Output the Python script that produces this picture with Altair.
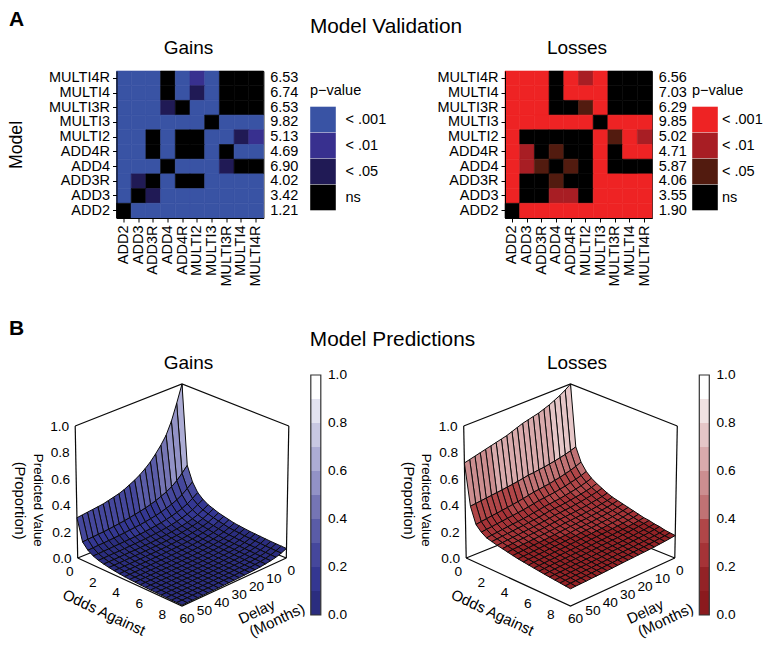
import altair as alt
import pandas as pd

FONT = "Liberation Sans"
MODELS = ["ADD2", "ADD3", "ADD3R", "ADD4", "ADD4R", "MULTI2", "MULTI3", "MULTI3R", "MULTI4", "MULTI4R"]
MODELS_TOP = MODELS[::-1]
P_LABELS = ["< .001", "< .01", "< .05", "ns"]
# 3 = < .001, 2 = < .01, 1 = < .05, 0 = ns; rows from MULTI4R down to ADD2
GAINS_P = [
    [3,3,3,0,3,2,3,0,0,0],
    [3,3,3,0,3,1,3,0,0,0],
    [3,3,3,1,0,3,3,0,0,0],
    [3,3,3,3,3,3,0,3,3,3],
    [3,3,0,3,0,0,3,3,1,2],
    [3,3,0,3,0,0,3,0,3,3],
    [3,3,3,0,3,3,3,1,0,0],
    [3,1,0,3,0,0,3,3,3,3],
    [3,0,1,3,3,3,3,3,3,3],
    [0,3,3,3,3,3,3,3,3,3],
]
LOSSES_P = [
    [3,3,3,0,3,2,3,0,0,0],
    [3,3,3,0,3,3,3,0,0,0],
    [3,3,3,0,0,1,3,0,0,0],
    [3,3,3,3,3,3,0,3,3,3],
    [3,0,0,0,0,0,3,1,3,2],
    [3,2,0,1,0,0,3,0,3,3],
    [3,2,1,0,1,0,3,0,0,0],
    [3,0,0,1,0,0,3,3,3,3],
    [3,0,0,2,2,0,3,3,3,3],
    [0,3,3,3,3,3,3,3,3,3],
]
GAINS_BIC = ["6.53","6.74","6.53","9.82","5.13","4.69","6.90","4.02","3.42","1.21"]
LOSSES_BIC = ["6.56","7.03","6.29","9.85","5.02","4.71","5.87","4.06","3.55","1.90"]
GAINS_P_COLORS = ["#3953a4", "#38308f", "#201a55", "#000000"]
LOSSES_P_COLORS = ["#ee2324", "#a81e24", "#521b0f", "#000000"]

ODDS_MAX = 9
DELAY_MAX = 60
# predicted value: rows = odds step (0.45), columns = delay step (3 months)
GAINS_SURFACE = [
[1,.87,.75,.66,.60,.55,.505,.47,.44,.415,.395,.375,.36,.35,.34,.33,.325,.32,.315,.31,.305],
[.40,.355,.315,.285,.262,.245,.228,.215,.204,.195,.187,.179,.172,.166,.161,.156,.152,.149,.146,.143,.14],
[.29,.256,.225,.202,.185,.171,.158,.148,.14,.133,.127,.122,.118,.114,.11,.107,.104,.102,.1,.097,.095],
[.225,.197,.172,.153,.139,.128,.118,.11,.104,.098,.093,.089,.086,.083,.081,.079,.077,.075,.073,.071,.07],
[.19,.165,.143,.126,.114,.104,.096,.089,.083,.078,.074,.071,.068,.066,.064,.062,.060,.059,.058,.056,.055],
[.165,.142,.122,.107,.096,.087,.08,.074,.069,.065,.061,.058,.056,.054,.052,.051,.05,.048,.047,.046,.045],
[.15,.128,.109,.095,.085,.077,.07,.064,.06,.056,.053,.05,.048,.046,.044,.043,.042,.04,.039,.038,.037],
[.135,.115,.097,.084,.075,.068,.061,.056,.052,.048,.045,.043,.041,.039,.038,.036,.035,.034,.033,.032,.031],
[.125,.105,.088,.076,.067,.06,.054,.049,.045,.042,.04,.037,.035,.034,.032,.031,.03,.029,.028,.027,.026],
[.115,.096,.08,.068,.06,.053,.048,.043,.04,.037,.034,.032,.03,.029,.028,.027,.026,.025,.024,.023,.022],
[.105,.087,.072,.061,.053,.047,.042,.038,.035,.032,.03,.028,.026,.025,.024,.023,.022,.021,.02,.02,.019],
[.1,.082,.067,.056,.049,.043,.038,.035,.031,.029,.027,.025,.024,.022,.021,.02,.02,.019,.018,.018,.017],
[.095,.078,.063,.052,.045,.04,.035,.032,.029,.026,.024,.023,.021,.02,.019,.018,.018,.017,.016,.016,.015],
[.09,.073,.059,.049,.042,.037,.032,.029,.026,.024,.022,.021,.019,.018,.017,.016,.016,.015,.014,.014,.013],
[.087,.07,.056,.046,.039,.034,.03,.027,.024,.022,.02,.019,.017,.016,.016,.015,.014,.014,.013,.013,.012],
[.084,.067,.053,.044,.037,.032,.028,.025,.022,.02,.019,.017,.016,.015,.014,.014,.013,.012,.012,.011,.011],
[.081,.064,.051,.042,.035,.03,.026,.023,.021,.019,.017,.016,.015,.014,.013,.012,.012,.011,.011,.01,.01],
[.078,.061,.048,.039,.033,.028,.024,.022,.019,.017,.016,.015,.014,.013,.012,.011,.011,.01,.01,.009,.009],
[.076,.059,.046,.037,.031,.026,.023,.02,.018,.016,.015,.014,.013,.012,.011,.01,.01,.009,.009,.008,.008],
[.074,.057,.044,.035,.029,.025,.021,.019,.017,.015,.014,.013,.012,.011,.01,.01,.009,.009,.008,.008,.008],
[.072,.055,.042,.034,.028,.023,.02,.018,.016,.014,.013,.012,.011,.01,.009,.009,.008,.008,.008,.007,.007],
]
LOSSES_SURFACE = [
[1,.97,.945,.925,.905,.89,.875,.865,.855,.845,.83,.815,.80,.79,.78,.77,.76,.75,.74,.73,.72],
[.54,.526,.514,.505,.496,.489,.482,.478,.472,.469,.461,.454,.448,.443,.437,.433,.428,.424,.419,.415,.41],
[.44,.424,.41,.40,.389,.382,.373,.368,.362,.358,.349,.341,.334,.328,.322,.317,.311,.307,.301,.296,.29],
[.385,.37,.358,.349,.339,.332,.324,.32,.315,.311,.303,.296,.289,.284,.278,.274,.269,.265,.259,.255,.25],
[.35,.336,.325,.316,.308,.301,.294,.29,.285,.281,.274,.268,.261,.256,.251,.248,.243,.239,.234,.23,.225],
[.325,.312,.303,.295,.288,.282,.276,.272,.268,.265,.258,.252,.247,.243,.238,.235,.23,.227,.223,.219,.215],
[.305,.294,.285,.278,.271,.266,.26,.257,.253,.25,.244,.239,.234,.23,.226,.223,.219,.216,.212,.209,.205],
[.285,.275,.268,.262,.255,.251,.246,.243,.24,.237,.232,.228,.223,.22,.216,.214,.21,.208,.204,.201,.198],
[.27,.261,.254,.248,.243,.239,.234,.232,.228,.226,.221,.217,.213,.21,.207,.204,.201,.199,.196,.193,.19],
[.26,.251,.244,.239,.233,.23,.225,.223,.219,.217,.212,.209,.205,.202,.198,.196,.193,.191,.187,.185,.182],
[.25,.242,.235,.23,.225,.221,.216,.214,.211,.209,.204,.2,.197,.194,.191,.189,.186,.183,.18,.178,.175],
[.24,.232,.226,.221,.216,.213,.209,.206,.204,.202,.197,.194,.19,.188,.185,.183,.18,.178,.175,.173,.17],
[.23,.223,.217,.212,.208,.205,.201,.199,.196,.194,.19,.187,.184,.181,.179,.177,.174,.172,.17,.168,.165],
[.22,.213,.208,.204,.2,.197,.193,.191,.189,.187,.183,.18,.177,.175,.173,.171,.168,.167,.164,.162,.16],
[.21,.204,.199,.195,.191,.189,.185,.184,.181,.18,.176,.174,.171,.169,.167,.165,.163,.161,.159,.157,.155],
[.205,.199,.194,.19,.186,.184,.18,.179,.176,.175,.171,.169,.166,.164,.162,.16,.158,.156,.154,.152,.15],
[.195,.19,.185,.182,.178,.176,.173,.171,.17,.168,.165,.163,.16,.158,.156,.155,.153,.151,.149,.148,.146],
[.19,.185,.18,.177,.174,.171,.168,.167,.165,.164,.161,.158,.156,.154,.152,.151,.149,.147,.145,.144,.142],
[.18,.175,.172,.169,.166,.164,.161,.16,.158,.157,.154,.152,.15,.149,.147,.146,.144,.143,.141,.14,.138],
[.175,.17,.167,.164,.161,.159,.157,.155,.153,.152,.15,.148,.146,.144,.143,.141,.14,.139,.137,.136,.134],
[.17,.166,.162,.159,.156,.154,.152,.151,.149,.148,.146,.144,.142,.14,.138,.137,.136,.134,.133,.132,.13],
]
GAINS_BAND_COLORS = ["#2b2d7f","#343792","#45479c","#5a5ca7","#7575b4","#9292c6","#acacd4","#c8c8e2","#e3e3f1","#ffffff"]
LOSSES_BAND_COLORS = ["#8b1a1e","#932226","#a53337","#b04648","#c07274","#cc8e90","#d9aaac","#e5c6c7","#f0e2e2","#ffffff"]
BAND_EDGES = [0.0, 0.1, 0.2, 0.3, 0.4, 0.5, 0.6, 0.7, 0.8, 0.9, 1.0]
Z_TICKS = [0.0, 0.2, 0.4, 0.6, 0.8, 1.0]
ODDS_TICKS = [0, 2, 4, 6, 8]
DELAY_TICKS = [0, 10, 20, 30, 40, 50, 60]
BAR_TICKS = [0.0, 0.2, 0.4, 0.6, 0.8, 1.0]

HEAT = 147
SURF_H = 222
TXT = 14.5
BLACK = "#0a0a0a"


def proj(o, d, v):
    """Oblique view of (odds fraction, delay fraction, value) on to the page plane."""
    x = 65.5 + (104.3 + 2.5 * v) * (o - d)
    y = 132 + 42 * (o + d) + 6 * o * d - 132 * v
    return x, y


def bar_y(v):
    """Position of a value along the colour bar, on the same page-unit scale."""
    return -9 + 240 * (1 - v)


def note(text, x, y, size, **kw):
    return alt.Chart(pd.DataFrame({"t": [text]})).mark_text(
        fontSize=size, font=FONT, color="black", **kw
    ).encode(text="t:N", x=alt.value(x), y=alt.value(y))


def heatmap(matrix, bic, colors, title, show_title, legend_x, label_offset, extras):
    rows = []
    for r, name in enumerate(MODELS_TOP):
        for c, other in enumerate(MODELS):
            rows.append({"y": name, "x": other, "p": P_LABELS[3 - matrix[r][c]]})
    df = pd.DataFrame(rows)
    yaxis = dict(tickSize=4, tickColor="black", domainColor="black", labelFontSize=TXT,
                 labelPadding=3, labelColor="black", labelFont=FONT, grid=False)
    if show_title:
        yaxis.update(title="Model", titleFontSize=17.7, titleFontWeight="normal", titleFont=FONT,
                     titleX=-91, titleY=73.5, titleColor="black")
    else:
        yaxis.update(title=None)
    p_scale = alt.Scale(domain=P_LABELS, range=colors)
    rect = alt.Chart(df).mark_rect(strokeWidth=0.6).encode(
        x=alt.X("x:N", sort=MODELS, scale=alt.Scale(domain=MODELS, padding=0),
                axis=alt.Axis(title=None, tickSize=4, tickColor="black", domainColor="black",
                              labelFontSize=TXT, labelAngle=270, labelPadding=3, labelColor="black",
                              labelFont=FONT, grid=False)),
        y=alt.Y("y:N", sort=MODELS_TOP, scale=alt.Scale(domain=MODELS_TOP, padding=0),
                axis=alt.Axis(**yaxis)),
        stroke=alt.Stroke("p:N", scale=p_scale, legend=None),
        fill=alt.Fill("p:N", scale=p_scale,
                      legend=alt.Legend(title="p\u2212value", orient="none", legendX=legend_x, legendY=13,
                                        symbolType="square", symbolSize=655, symbolStrokeWidth=0,
                                        titleFontSize=TXT, titleFontWeight="normal", titleFont=FONT,
                                        titleColor="black", titlePadding=8, labelFontSize=TXT,
                                        labelFont=FONT, labelColor="black", labelOffset=label_offset,
                                        rowPadding=0, labelLimit=80)),
    )
    nums = alt.Chart(pd.DataFrame({"y": MODELS_TOP, "v": bic})).mark_text(
        align="left", fontSize=TXT, font=FONT, color="black"
    ).encode(y=alt.Y("y:N", sort=MODELS_TOP), x=alt.value(153.7), text="v:N")
    return alt.layer(rect, nums, note(title, 72, -23.5, 19), *extras).properties(
        width=HEAT, height=HEAT,
        view=alt.ViewBackground(stroke="#333333", strokeWidth=1),
    )


def surface(matrix, band_colors, title, extras):
    n_o = len(matrix) - 1
    n_d = len(matrix[0]) - 1
    cells = []
    for i in range(n_o):
        for k in range(n_d):
            corners = [(i, k), (i + 1, k), (i + 1, k + 1), (i, k + 1)]
            mean = sum(matrix[a][b] for a, b in corners) / 4
            for idx, (a, b) in enumerate(corners):
                x, y = proj(a / n_o, b / n_d, matrix[a][b])
                cells.append({"depth": i + k, "cell": f"{i}_{k}", "idx": idx, "x": x, "y": y, "mean": mean})
    cdf = pd.DataFrame(cells).sort_values(["depth", "cell", "idx"], kind="stable")

    edges = []
    def edge(name, pts):
        for j, (o, d, v) in enumerate(pts):
            x, y = proj(o, d, v)
            edges.append({"edge": name, "j": j, "x": x, "y": y})
    edge("top", [(0, 1, 1), (0, 0, 1), (1, 0, 1)])
    edge("left", [(0, 1, 0), (0, 1, 1)])
    edge("right", [(1, 0, 0), (1, 0, 1)])
    edge("back", [(0, 0, 0), (0, 0, 1)])
    edge("floor_front", [(0, 1, 0), (1, 1, 0), (1, 0, 0)])
    edge("floor_back", [(0, 1, 0), (0, 0, 0), (1, 0, 0)])
    edf = pd.DataFrame(edges)

    xs = alt.Scale(domain=[0, HEAT])
    ys = alt.Scale(domain=[SURF_H, 0])
    fill_scale = alt.Scale(type="quantize", domain=[0, 1], range=band_colors)
    box = alt.Chart(edf).mark_line(color=BLACK, strokeWidth=1.2).encode(
        x=alt.X("x:Q", scale=xs, axis=None), y=alt.Y("y:Q", scale=ys, axis=None),
        detail="edge:N", order="j:Q")
    poly = alt.Chart(cdf).mark_line(interpolate="linear-closed", stroke=BLACK, strokeWidth=1.0,
                                    strokeJoin="miter").encode(
        x=alt.X("x:Q", scale=xs, axis=None), y=alt.Y("y:Q", scale=ys, axis=None),
        detail="cell:N", order="idx:Q",
        fill=alt.Fill("mean:Q", scale=fill_scale, legend=None),
    )
    bdf = pd.DataFrame({
        "mean": [(a + b) / 2 for a, b in zip(BAND_EDGES[:-1], BAND_EDGES[1:])],
        "y": [bar_y(a) for a in BAND_EDGES[:-1]],
        "y2": [bar_y(b) for b in BAND_EDGES[1:]],
    })
    bar = alt.Chart(bdf).mark_rect(strokeWidth=0).encode(
        x=alt.value(194.3), x2=alt.value(204.3),
        y=alt.Y("y:Q", scale=ys, axis=None), y2="y2:Q",
        fill=alt.Fill("mean:Q", scale=fill_scale, legend=None),
    )
    frame = alt.Chart(pd.DataFrame({"y": [bar_y(0)], "y2": [bar_y(1)]})).mark_rect(
        fillOpacity=0, stroke="#333333", strokeWidth=1.2
    ).encode(
        x=alt.value(194.3), x2=alt.value(204.3),
        y=alt.Y("y:Q", scale=ys, axis=None), y2="y2:Q",
    )
    def tick_df(values, fn):
        rows = []
        for t in values:
            x, y = fn(t)
            rows.append({"x": x, "y": y, "t": t})
        return pd.DataFrame(rows)
    zdf = tick_df(Z_TICKS, lambda t: proj(0, 1, t))
    zdf["t"] = [f"{t:.1f}" for t in Z_TICKS]
    odf = tick_df(ODDS_TICKS, lambda t: proj(t / ODDS_MAX, 1, 0))
    ddf = tick_df(DELAY_TICKS, lambda t: proj(1, t / DELAY_MAX, 0))
    cbdf = pd.DataFrame({"y": [bar_y(t) for t in BAR_TICKS], "t": [f"{t:.1f}" for t in BAR_TICKS]})
    def labels(df, **kw):
        return alt.Chart(df).mark_text(font=FONT, fontSize=13.7, color="black", **kw).encode(
            x=alt.X("x:Q", scale=xs, axis=None), y=alt.Y("y:Q", scale=ys, axis=None), text="t:N")
    bar_labels = alt.Chart(cbdf).mark_text(font=FONT, fontSize=13.7, color="black", align="left").encode(
        x=alt.value(211.5), y=alt.Y("y:Q", scale=ys, axis=None), text="t:N")
    layers = [
        box, poly, bar, frame, bar_labels,
        labels(zdf, align="right", dx=-6, dy=1),
        labels(odf, dx=-8, dy=14),
        labels(ddf, dx=5, dy=13),
        note(title, 72, -21.5, 19),
        note("Odds Against", -12.5, 228.5, 15, angle=25),
        note("Delay", 140.2, 227.7, 15, angle=335),
        note("(Months)", 160.5, 236, 15, angle=335),
        note("Predicted Value", -78.8, 116.3, 13.3, angle=90),
        note("(Proportion)", -97.2, 116.7, 14.8, angle=90),
    ] + extras
    return alt.layer(*layers).properties(
        width=HEAT, height=SURF_H, view=alt.ViewBackground(stroke="transparent"),
    )


a = heatmap(GAINS_P, GAINS_BIC, GAINS_P_COLORS, "Gains", True, 193.5, 9.5, [
    note("A", -107.5, -62, 21, fontWeight="bold", align="left", baseline="top"),
    note("Model Validation", 269.5, -44.3, 20.8),
])
b = heatmap(LOSSES_P, LOSSES_BIC, LOSSES_P_COLORS, "Losses", False, 187, 4, [])
c = surface(GAINS_SURFACE, GAINS_BAND_COLORS, "Gains", [
    note("B", -107.5, -66, 21, fontWeight="bold", align="left", baseline="top"),
    note("Model Predictions", 276, -44, 20.8),
])
d = surface(LOSSES_SURFACE, LOSSES_BAND_COLORS, "Losses", [])

chart = alt.concat(a, b, c, d, columns=2).properties(
    spacing={"column": 241.5, "row": 166}, bounds="flush", align="each",
    autosize=alt.AutoSizeParams(type="none"),
    padding={"left": 108.5, "top": 63, "right": 647.5, "bottom": 568},
).resolve_scale(fill="independent", stroke="independent").configure_view(stroke=None).configure(font=FONT).configure_axis(labelFont=FONT)

chart.save("out.html", embed_options={"renderer": "svg", "actions": False})
